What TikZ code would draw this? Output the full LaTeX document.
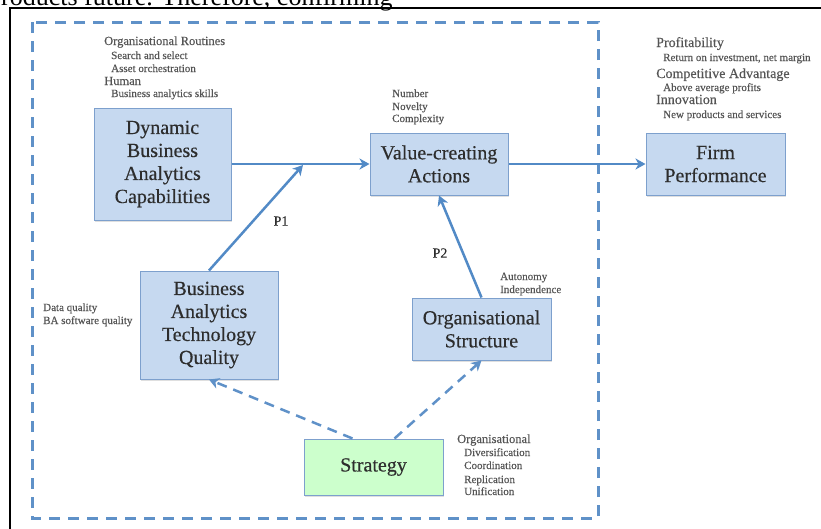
\documentclass[tikz,border=0pt]{standalone}
\usepackage{fontspec}
\setmainfont{Liberation Serif}
\newfontfamily\heavyserif[FakeBold=0.4]{Liberation Serif}
\usetikzlibrary{arrows.meta,shadows}
\definecolor{boxfill}{RGB}{198,217,240}
\definecolor{boxline}{RGB}{125,160,205}
\definecolor{greenfill}{RGB}{204,255,204}
\definecolor{arrowblue}{RGB}{82,138,198}
\definecolor{dashblue}{RGB}{95,145,200}
\definecolor{txtdark}{RGB}{45,45,45}
\definecolor{txtgray}{RGB}{85,85,85}
\begin{document}
\begin{tikzpicture}[x=1pt,y=-1pt,
  box/.style={draw=boxline, line width=1pt, fill=boxfill, inner sep=0pt, align=center,
    text=txtdark, font=\heavyserif\fontsize{20pt}{23pt}\selectfont,
    drop shadow={shadow xshift=1pt,shadow yshift=-1.5pt,opacity=0.25}},
  lab/.style={anchor=base west, inner sep=0pt, text=txtgray, font=\heavyserif\fontsize{11pt}{13pt}\selectfont},
  labh/.style={lab, font=\heavyserif\fontsize{12.5pt}{14pt}\selectfont},
  labhh/.style={lab, font=\heavyserif\fontsize{14pt}{15pt}\selectfont},
  plab/.style={inner sep=0pt, text=txtdark, font=\heavyserif\fontsize{14pt}{15pt}\selectfont},
  conn/.style={draw=arrowblue, line width=2.5pt, -{Stealth[length=10pt,width=11pt,inset=3pt]}},
  dconn/.style={conn, draw=dashblue, dash pattern=on 10pt off 7pt}
]
\useasboundingbox (0,0) rectangle (821,528);

% page context
\node[anchor=base west, inner sep=0pt, font=\fontsize{26pt}{28pt}\selectfont] (toptext) at (1,5.5) {roducts future. Therefore, confirming};
\draw[black, line width=1.8pt] (10,540) -- (10,8) -- (830,8);

% dashed frame
\draw[dashblue, line width=3pt, dash pattern=on 11pt off 8pt] (32,22) rectangle (598,518);

% boxes
\node[box, minimum width=137pt, minimum height=112pt] (dbac) at (162.5,164) {Dynamic\\Business\\Analytics\\Capabilities};
\node[box, minimum width=138pt, minimum height=62pt] (vca) at (439,164) {Value-creating\\Actions};
\node[box, minimum width=139pt, minimum height=62pt] (fp) at (715.5,164) {Firm\\Performance};
\node[box, minimum width=138pt, minimum height=108pt] (batq) at (209,325) {Business\\Analytics\\Technology\\Quality};
\node[box, minimum width=139pt, minimum height=62pt] (os) at (481.5,329) {Organisational\\Structure};
\node[box, fill=greenfill, minimum width=139pt, minimum height=56pt] (strat) at (373.5,467) {Strategy};

% labels
\node[labh] (l1) at (104,45) {Organisational Routines};
\node[lab] (l2) at (111,59) {Search and select};
\node[lab] (l3) at (111,72) {Asset orchestration};
\node[labh] (l4) at (104,85) {Human};
\node[lab] (l5) at (111,97) {Business analytics skills};

\node[lab] (n1) at (392,97) {Number};
\node[lab] (n2) at (392,110) {Novelty};
\node[lab] (n3) at (392,122) {Complexity};

\node[labhh] (f1) at (656,47) {Profitability};
\node[lab] (f2) at (663,61) {Return on investment, net margin};
\node[labhh] (f3) at (656,78) {Competitive Advantage};
\node[lab] (f4) at (663,91) {Above average profits};
\node[labhh] (f5) at (656,104) {Innovation};
\node[lab] (f6) at (663,118) {New products and services};

\node[lab] (a1) at (500,280) {Autonomy};
\node[lab] (a2) at (500,293) {Independence};

\node[lab] (d1) at (43,311) {Data quality};
\node[lab] (d2) at (43,324) {BA software quality};

\node[labh] (s1) at (457,443) {Organisational};
\node[lab] (s2) at (464,456) {Diversification};
\node[lab] (s3) at (464,469) {Coordination};
\node[lab] (s4) at (464,483) {Replication};
\node[lab] (s5) at (464,495) {Unification};

\node[plab] (p1) at (281,221) {P1};
\node[plab] (p2) at (440,253) {P2};

% connectors
\coordinate (j) at (303,165);
\draw[conn] (dbac.east) -- (vca.west);
\draw[conn] (batq.north) -- (j);
\draw[conn] (vca.east) -- (fp.west);
\draw[conn] (os.north) -- (vca.south);
\draw[dconn] ([xshift=-21pt]strat.north) -- (batq.south);
\draw[dconn] ([xshift=21pt]strat.north) -- (os.south);
\end{tikzpicture}
\end{document}
